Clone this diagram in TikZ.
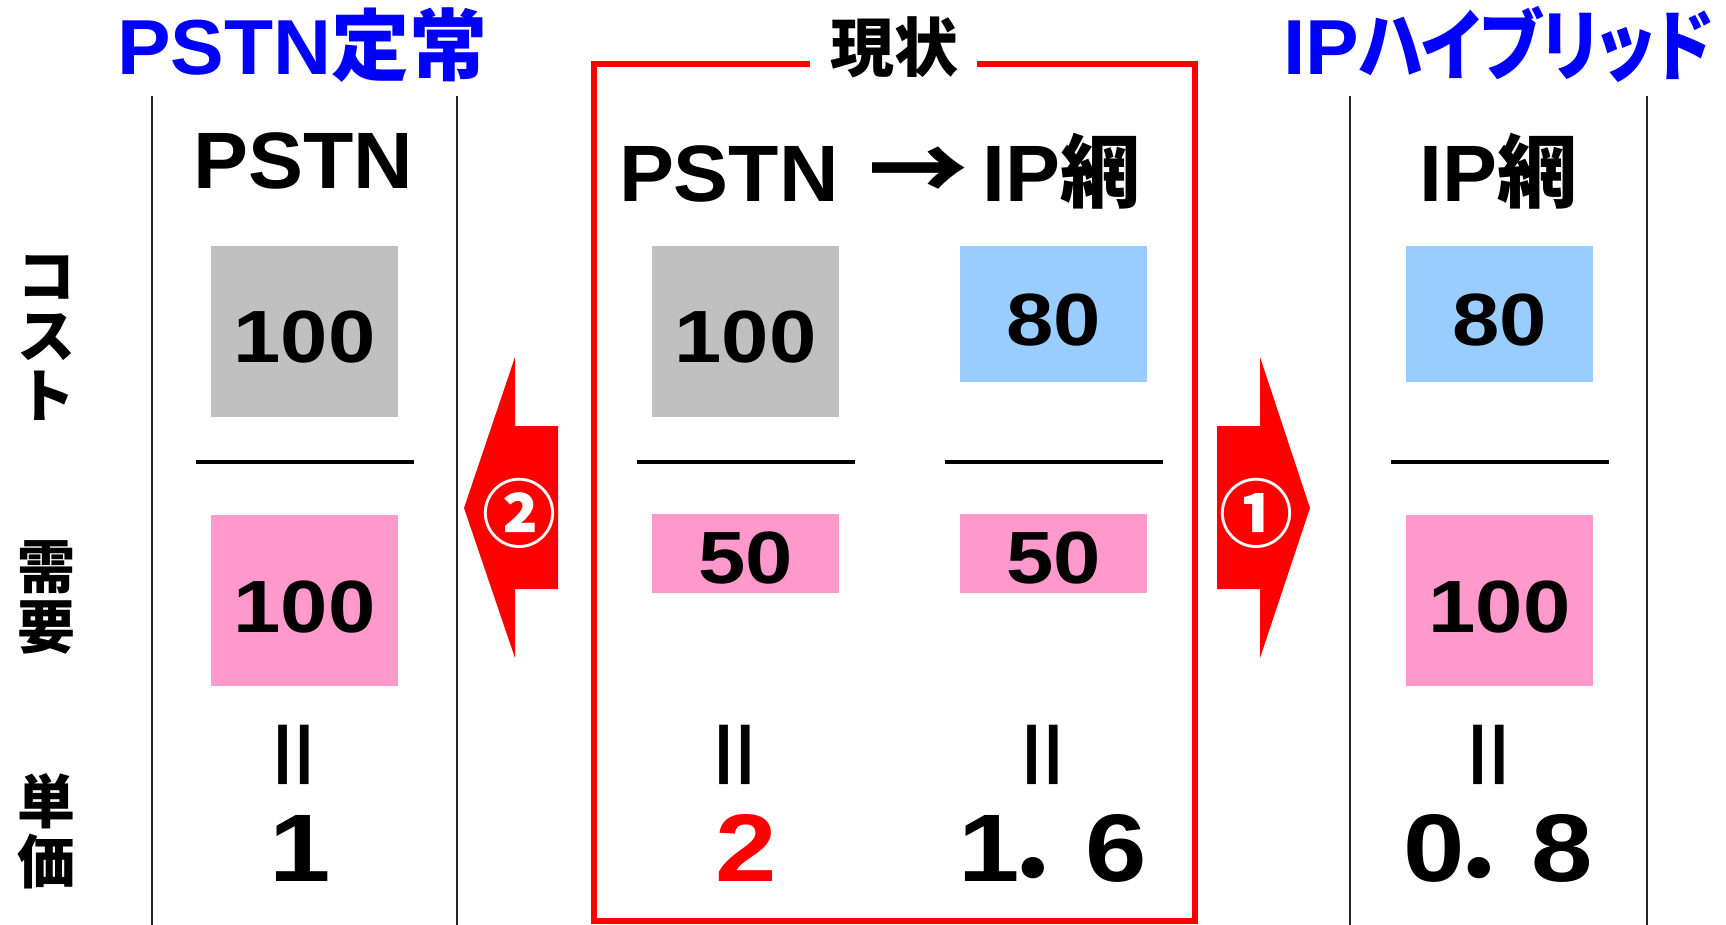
\documentclass[tikz,border=0pt]{standalone}
\usepackage{fontspec}
\newfontfamily\lat{Liberation Sans}[FakeStretch=1.03]
\newfontfamily\num{Liberation Sans}[FakeStretch=1.15]
\newfontfamily\jp{Noto Sans CJK JP}
\newfontfamily\jpp{Noto Sans CJK JP}[RawFeature=+palt, FakeStretch=0.85]
\newcommand\fsz[1]{\fontsize{#1}{#1}\selectfont}
\definecolor{boxgray}{HTML}{C0C0C0}
\definecolor{boxblue}{HTML}{99CCFF}
\definecolor{boxpink}{HTML}{FF99CC}
\definecolor{titleblue}{HTML}{0000FF}
\definecolor{framered}{HTML}{FF0000}
\begin{document}
\begin{tikzpicture}[x=1pt,y=-1pt,
  tx/.style={inner sep=0pt, outer sep=0pt, anchor=base, font=\bfseries},
  cell/.style={inner sep=0pt, outer sep=0pt, minimum width=187pt, draw=none},
  gcell/.style={cell, fill=boxgray, minimum height=171pt},
  bcell/.style={cell, fill=boxblue, minimum height=136pt},
  ptall/.style={cell, fill=boxpink, minimum height=171pt},
  pshort/.style={cell, fill=boxpink, minimum height=79pt},
  sepline/.style={draw=black!85, line width=2pt},
  fracline/.style={draw=black, line width=3.5pt},
  numtxt/.style={tx, font=\num\bfseries\fsz{74}},
  bigtxt/.style={tx, font=\num\bfseries\fsz{96}},
  eqs/.style={inner sep=0pt, rotate=90, font=\lat\bfseries\fsz{115}},
  headtxt/.style={tx, font=\bfseries\fsz{80}},
  ttl/.style={tx, font=\bfseries\fsz{78}, text=titleblue},
  side/.style={inner sep=0pt, align=center, font=\jp\bfseries\fontsize{58}{60}\selectfont},
  bigarrow/.style={fill=framered, draw=none},
  circnum/.style={inner sep=0pt, text=white, font=\jp\bfseries\fsz{74}},
]
\useasboundingbox (0,0) rectangle (1726,925);

% titles
\node[ttl] (t1) at (302.5,75) {{\lat PSTN}{\jp 定常}};
\node[ttl, anchor=base west] (t2) at (1283,75) {{\lat IP}{\jpp ハイブリッド}};
\node[inner sep=0pt, font=\jp\bfseries\fsz{64}] (t0) at (894,47.5) {現状};

% red frame
\draw[framered, line width=6pt] (810,64) -- (593.5,64) -- (593.5,921) -- (1195,921) -- (1195,64) -- (977,64);

% separators
\foreach \x in {152,457,1350,1647} \draw[sepline] (\x,96) -- (\x,925);

% headers
\node[headtxt] (h1) at (303,189) {\lat PSTN};
\node[headtxt, anchor=base west] (h2) at (619,202) {{\lat PSTN}\hspace{30pt}{\jp\scalebox{1.25}[1.1]{→}}\hspace{14pt}{\lat IP}{\jp 網}};
\node[headtxt] (h4) at (1498.5,202) {{\lat IP}{\jp 網}};

% side labels
\node[side] (s1) at (46,338) {コ\\ス\\ト};
\node[side] (s2) at (46,597) {需\\要};
\node[side] (s3) at (46,831) {単\\価};

% boxes
\node[gcell] (c1) at (304.5,331.5) {};
\node[gcell] (c2) at (745.5,331.5) {};
\node[bcell] (c3) at (1053.5,314) {};
\node[bcell] (c4) at (1499.5,314) {};
\node[ptall] (d1) at (304.5,600.5) {};
\node[pshort] (d2) at (745.5,553.5) {};
\node[pshort] (d3) at (1053.5,553.5) {};
\node[ptall] (d4) at (1499.5,600.5) {};

\node[numtxt] (n1) at (304.5,362) {100};
\node[numtxt] (n2) at (745.5,362) {100};
\node[numtxt] (n3) at (1053.5,345) {80};
\node[numtxt] (n4) at (1499.5,345) {80};
\node[numtxt] (m1) at (304.5,632) {100};
\node[numtxt] (m2) at (745.5,583) {50};
\node[numtxt] (m3) at (1053.5,583) {50};
\node[numtxt] (m4) at (1499.5,632) {100};

% fraction bars
\foreach \x in {304.5,745.5,1053.5,1499.5} \draw[fracline] (\x-109,462) -- (\x+109,462);

% big arrows
\fill[bigarrow] (464,508) -- (515,357) -- (515,426) -- (558,426) -- (558,589) -- (515,589) -- (515,658) -- cycle;
\fill[bigarrow] (1310,508) -- (1260,357) -- (1260,426) -- (1217,426) -- (1217,589) -- (1260,589) -- (1260,658) -- cycle;
\node[circnum] (a2) at (519,513) {②};
\node[circnum] (a1) at (1256,513) {①};

% equals
\node[eqs] (e1) at (299.5,755) {\scalebox{1}[0.7]{=}};
\node[eqs] (e2) at (740.5,755) {\scalebox{1}[0.7]{=}};
\node[eqs] (e3) at (1048.5,755) {\scalebox{1}[0.7]{=}};
\node[eqs] (e4) at (1494.5,755) {\scalebox{1}[0.7]{=}};

% values
\node[bigtxt] (v1) at (300,881) {1};
\node[bigtxt, text=framered] (v2) at (746,881) {2};
\node[bigtxt] (v3) at (1052.5,881) {1\kern-15pt{\jp ．}\kern-15pt 6};
\node[bigtxt] (v4) at (1498,881) {0\kern-15pt{\jp ．}\kern-15pt 8};
\end{tikzpicture}
\end{document}
